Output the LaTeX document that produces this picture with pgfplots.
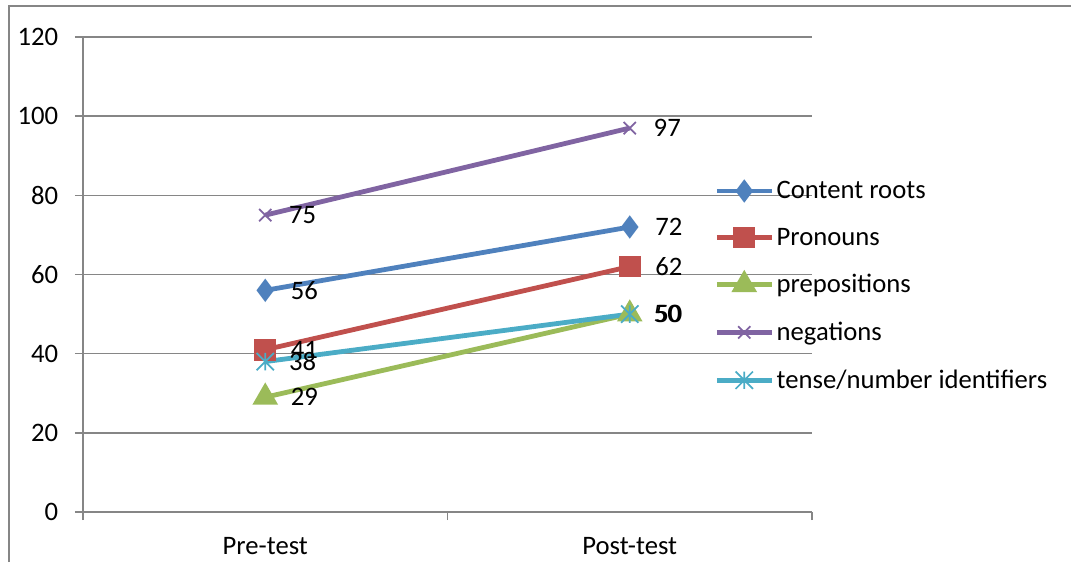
\documentclass[border=0pt]{standalone}
\usepackage{fontspec}
\setmainfont{Carlito}
\usepackage{pgfplots}
\pgfplotsset{compat=1.18}

\definecolor{cblue}{HTML}{4F81BD}
\definecolor{cred}{HTML}{C0504D}
\definecolor{cgreen}{HTML}{9BBB59}
\definecolor{cpurple}{HTML}{8064A2}
\definecolor{caqua}{HTML}{4BACC6}
\definecolor{gridgray}{HTML}{868686}

% star marker: a cross with a vertical bar through it
\pgfdeclareplotmark{xstar}{%
  \pgfpathmoveto{\pgfqpoint{-\pgfplotmarksize}{-\pgfplotmarksize}}%
  \pgfpathlineto{\pgfqpoint{\pgfplotmarksize}{\pgfplotmarksize}}%
  \pgfpathmoveto{\pgfqpoint{-\pgfplotmarksize}{\pgfplotmarksize}}%
  \pgfpathlineto{\pgfqpoint{\pgfplotmarksize}{-\pgfplotmarksize}}%
  \pgfpathmoveto{\pgfqpoint{0pt}{-\pgfplotmarksize}}%
  \pgfpathlineto{\pgfqpoint{0pt}{\pgfplotmarksize}}%
  \pgfusepathqstroke}

\newcommand{\chartfont}{\fontsize{20}{24}\selectfont}

\begin{document}
\begin{tikzpicture}
\useasboundingbox (0,0) rectangle (803.25pt,421.5pt);
\draw[gridgray, line width=1.1pt] (6.75pt,0pt) -- (6.75pt,417pt) -- (803.25pt,417pt);

\begin{axis}[
  at={(62.25pt,37.5pt)}, anchor=south west,
  scale only axis, width=546.75pt, height=356.25pt,
  xmin=0.5, xmax=2.5, ymin=0, ymax=120,
  xtick={1,2}, xticklabels={Pre-test,Post-test},
  major x tick style={draw=none},
  minor xtick={0.5,1.5,2.5},
  ytick={0,20,...,120},
  ymajorgrids,
  grid style={gridgray, line width=1.1pt},
  axis x line*=bottom, axis y line*=left,
  axis line style={gridgray, line width=1.1pt, -},
  tick align=outside,
  tick style={gridgray, line width=1.1pt},
  major tick length=6pt, minor tick length=6pt,
  tick label style={font=\chartfont, black},
  yticklabel style={xshift=-7.5pt},
  xticklabel style={yshift=-8pt},
  /pgf/number format/assume math mode=true,
  clip=false,
  line width=3.6pt,
  nodes near coords,
  nodes near coords style={font=\chartfont, black, anchor=west, xshift=14pt},
  point meta=explicit,
  legend cell align=left,
  legend style={at={(0.863,0.476)}, anchor=west, draw=none, fill=none,
    font=\chartfont, row sep=16.5pt, inner sep=0pt},
  legend image code/.code={%
    \draw[mark repeat=2, mark phase=2, #1]
      plot coordinates {(0pt,0pt) (20.5pt,0pt) (41pt,0pt)};},
]
\addplot[cblue, mark=diamond*, mark size=5.8pt, mark options={fill=cblue}]
  coordinates {(1,56) [56] (2,72) [72]};
\addlegendentry{Content roots}
\addplot[cred, mark=square*, mark size=6.3pt, mark options={fill=cred}]
  coordinates {(1,41) [41] (2,62) [62]};
\addlegendentry{Pronouns}
\addplot[cgreen, mark=triangle*, mark size=7.5pt, mark options={fill=cgreen}]
  coordinates {(1,29) [29] (2,50) [50]};
\addlegendentry{prepositions}
\addplot[cpurple, mark=x, mark size=6.5pt, mark options={line width=1.3pt}]
  coordinates {(1,75) [75] (2,97) [97]};
\addlegendentry{negations}
\addplot[caqua, mark=xstar, mark size=6.5pt, mark options={line width=1.3pt}]
  coordinates {(1,38) [38] (2,50) [50]};
\addlegendentry{tense/number identifiers}
\end{axis}
\end{tikzpicture}
\end{document}
